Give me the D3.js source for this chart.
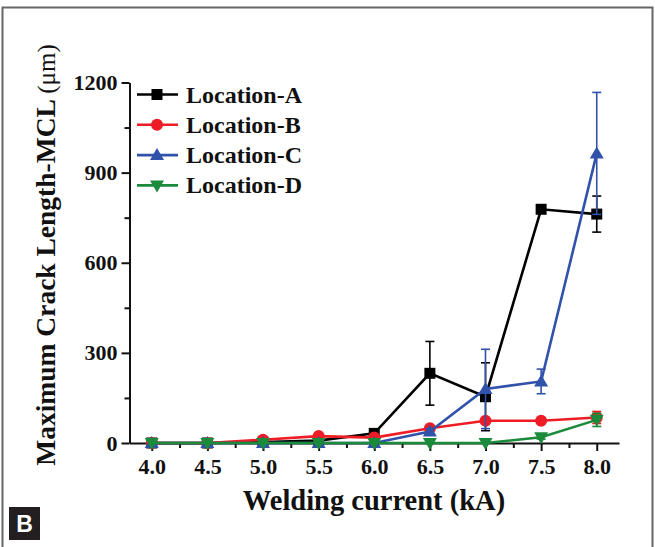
<!DOCTYPE html>
<html>
<head>
<meta charset="utf-8">
<script src="https://cdn.jsdelivr.net/npm/d3@7"></script>
<style>
  html, body { margin: 0; padding: 0; background: #fff; }
  svg { display: block; }
  text { font-family: "Liberation Serif", "Times New Roman", serif; font-weight: bold; fill: #111; }
</style>
</head>
<body>
<svg id="chart" width="655" height="547"></svg>
<script>
// Welding current (kA)
const currents = [4.0, 4.5, 5.0, 5.5, 6.0, 6.5, 7.0, 7.5, 8.0];
const xTickLabels = ["4.0", "4.5", "5.0", "5.5", "6.0", "6.5", "7.0", "7.5", "8.0"];
const yTicks = [0, 300, 600, 900, 1200];
const yTickLabels = ["0", "300", "600", "900", "1200"];
const yMinorTicks = [150, 450, 750, 1050];

// Maximum crack length (µm) per location, with error (±)
const locationA = [0, 0, 3, 8, 32, 232, 154, 778, 762];
const errA      = [0, 0, 2, 4, 8, 106, 113, 0, 60];
const locationB = [0, 0, 11, 23, 18, 49, 74, 74, 85];
const errB      = [0, 0, 3, 6, 5, 8, 5, 5, 20];
const locationC = [0, 0, 0, 0, 0, 38, 180, 205, 964];
const errC      = [0, 0, 0, 0, 0, 10, 132, 41, 203];
const locationD = [0, 0, 0, 0, 0, 0, 0, 19, 77];
const errD      = [0, 0, 0, 0, 0, 0, 0, 6, 22];

const seriesNames = ["Location-A", "Location-B", "Location-C", "Location-D"];
const seriesColors = ["#000000", "#ee1d25", "#3152ab", "#1a8a3b"];
const seriesSymbols = ["square", "circle", "triangle", "triangleDown"];

const series = [
  { name: seriesNames[0], values: locationA, err: errA },
  { name: seriesNames[1], values: locationB, err: errB },
  { name: seriesNames[2], values: locationC, err: errC },
  { name: seriesNames[3], values: locationD, err: errD }
];

const svg = d3.select("#chart");

// outer panel frame
svg.append("path")
  .attr("d", "M2.5,547 V7.5 H652.5 V547")
  .attr("fill", "none").attr("stroke", "#666").attr("stroke-width", 2);

const x = d3.scaleLinear().domain([3.8, 8.2]).range([129.5, 619]);
const y = d3.scaleLinear().domain([0, 1200]).range([443, 82.5]);

// marker shapes
function marker(g, kind, color) {
  if (kind === "square") {
    g.append("rect").attr("x", -5.5).attr("y", -5.5).attr("width", 11).attr("height", 11).attr("fill", color);
  } else if (kind === "circle") {
    g.append("circle").attr("r", 6).attr("fill", color);
  } else if (kind === "triangle") {
    g.append("path").attr("d", "M0,-7 L7,5 L-7,5 Z").attr("fill", color);
  } else {
    g.append("path").attr("d", "M0,7 L7,-5 L-7,-5 Z").attr("fill", color);
  }
}

// axes
svg.append("g").attr("transform", "translate(0,443)")
  .call(d3.axisBottom(x).tickValues(currents).tickFormat((d, i) => xTickLabels[i]).tickSize(8).tickSizeOuter(0).tickPadding(7));
svg.append("g").attr("transform", "translate(0,443)")
  .call(d3.axisBottom(x).tickValues(d3.range(4.25, 8.1, 0.5)).tickFormat("").tickSize(5).tickSizeOuter(0))
  .select(".domain").remove();
svg.append("g").attr("transform", "translate(129.5,0)")
  .call(d3.axisLeft(y).tickValues(yTicks).tickFormat((d, i) => yTickLabels[i]).tickSize(8).tickSizeOuter(0).tickPadding(4));
svg.append("g").attr("transform", "translate(129.5,0)")
  .call(d3.axisLeft(y).tickValues(yMinorTicks).tickFormat("").tickSize(5).tickSizeOuter(0))
  .select(".domain").remove();

svg.selectAll(".domain").attr("stroke", "#111").attr("stroke-width", 2);
svg.selectAll(".tick line").attr("stroke", "#111").attr("stroke-width", 2);
svg.selectAll(".tick text")
  .style("font-family", "'Liberation Serif', serif").style("font-weight", "bold")
  .style("font-size", "22px").attr("fill", "#111");

// axis titles
svg.append("text")
  .attr("x", 374).attr("y", 510)
  .attr("text-anchor", "middle")
  .style("font-size", "28.5px")
  .text("Welding current (kA)");

const yTitle = svg.append("text")
  .attr("transform", "translate(55,255) rotate(-90)")
  .attr("text-anchor", "middle")
  .style("font-size", "27.5px");
yTitle.append("tspan").text("Maximum Crack Length-MCL ");
yTitle.append("tspan").style("font-weight", "normal").style("font-size", "25px").text("(\u03bcm)");

// series: error bars, line, markers
const line = d3.line().x((d, i) => x(currents[i])).y(d => y(d));
series.forEach((s, k) => {
  const color = seriesColors[k];
  const g = svg.append("g");
  const eb = g.append("g");
  s.values.forEach((v, i) => {
    const e = s.err[i];
    if (!e) return;
    const cx = x(currents[i]);
    eb.append("line").attr("x1", cx).attr("x2", cx).attr("y1", y(v - e)).attr("y2", y(v + e))
      .attr("stroke", color).attr("stroke-width", 1.6);
    [v - e, v + e].forEach(t => {
      eb.append("line").attr("x1", cx - 4.5).attr("x2", cx + 4.5).attr("y1", y(t)).attr("y2", y(t))
        .attr("stroke", color).attr("stroke-width", 1.6);
    });
  });
  g.append("path").datum(s.values).attr("d", line)
    .attr("fill", "none").attr("stroke", color).attr("stroke-width", 2.6);
  s.values.forEach((v, i) => {
    const m = g.append("g").attr("transform", `translate(${x(currents[i])},${y(v)})`);
    marker(m, seriesSymbols[k], color);
  });
});

// legend
const legend = svg.append("g");
seriesNames.forEach((name, k) => {
  const ly = 94.5 + k * 30.3;
  const color = seriesColors[k];
  legend.append("line").attr("x1", 137).attr("x2", 178).attr("y1", ly).attr("y2", ly)
    .attr("stroke", color).attr("stroke-width", 2.6);
  const m = legend.append("g").attr("transform", `translate(157,${ly})`);
  marker(m, seriesSymbols[k], color);
  legend.append("text").attr("x", 186).attr("y", ly + 8)
    .style("font-size", "24px").text(name);
});

// panel letter
svg.append("rect").attr("x", 9).attr("y", 507).attr("width", 31).attr("height", 33).attr("fill", "#231f20");
svg.append("text").attr("x", 24.5).attr("y", 532).attr("text-anchor", "middle")
  .style("font-family", "'Liberation Sans', Arial, sans-serif").style("font-size", "23px")
  .attr("fill", "#fff").style("fill", "#fff").text("B");
</script>
</body>
</html>
